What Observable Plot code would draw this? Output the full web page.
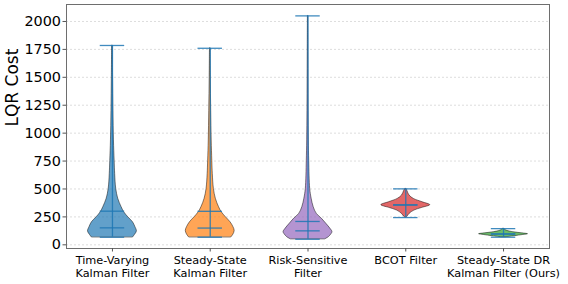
<!DOCTYPE html>
<html>
<head>
<meta charset="utf-8">
<script src="https://cdn.jsdelivr.net/npm/d3@7"></script>
<script src="https://cdn.jsdelivr.net/npm/@observablehq/plot@0.6"></script>
<style>
  html, body { margin: 0; padding: 0; background: #fff; }
  #chart svg { display: block; font-family: "DejaVu Sans", sans-serif; }
</style>
</head>
<body>
<div id="chart"></div>
<script>
// ---- data ----
const categories = [
  "Time-Varying\nKalman Filter",
  "Steady-State\nKalman Filter",
  "Risk-Sensitive\nFilter",
  "BCOT Filter",
  "Steady-State DR\nKalman Filter (Ours)"
];
const bodyColors = ["#1f77b4", "#ff7f0e", "#9467bd", "#d62728", "#2ca02c"];
const yTicks = [0, 250, 500, 750, 1000, 1250, 1500, 1750, 2000];

// summary statistics (LQR cost)
const minCost    = [68, 68, 50, 244, 68];
const maxCost    = [1785, 1760, 2050, 501, 145];
const meanCost   = [301, 300, 209, 358, 97];
const medianCost = [152, 150, 125, 356, 97];

// estimated density profiles (relative to each violin's peak)
const tvkfCost    = [68, 92, 120, 158, 202, 247, 292, 337, 412, 500, 635, 750, 935, 1200, 1500, 1785];
const tvkfDensity = [0.85, 0.93, 1.0, 0.94, 0.84, 0.645, 0.48, 0.375, 0.237, 0.155, 0.11, 0.09, 0.061, 0.04, 0.025, 0.012];

const sskfCost    = [68, 92, 125, 158, 202, 247, 292, 337, 412, 500, 635, 750, 935, 1200, 1500, 1760];
const sskfDensity = [0.87, 0.95, 1.0, 0.95, 0.83, 0.64, 0.47, 0.36, 0.23, 0.15, 0.105, 0.085, 0.06, 0.04, 0.022, 0.012];

const rsfCost    = [50, 68, 98, 115, 143, 188, 233, 277, 337, 412, 500, 750, 935, 1200, 1500, 1800, 2050];
const rsfDensity = [0.71, 0.85, 0.97, 1.0, 0.92, 0.75, 0.57, 0.36, 0.233, 0.15, 0.09, 0.05, 0.033, 0.022, 0.015, 0.01, 0.005];

const bcotCost    = [244, 253, 277, 307, 331, 355, 381, 411, 441, 480, 501];
const bcotDensity = [0.02, 0.07, 0.155, 0.355, 0.68, 1.0, 0.69, 0.33, 0.155, 0.07, 0.02];

const drkfCost    = [68, 77, 88, 95, 103, 113, 125, 135, 145];
const drkfDensity = [0.1, 0.45, 0.8, 1.0, 0.75, 0.4, 0.15, 0.06, 0.02];

const profiles = [
  [tvkfCost, tvkfDensity],
  [sskfCost, sskfDensity],
  [rsfCost, rsfDensity],
  [bcotCost, bcotDensity],
  [drkfCost, drkfDensity]
];

// ---- build tables ----
const halfWidth = 0.25;   // violin widths = 0.5
const capHalf = 0.125;
const stats = categories.map((c, i) => ({
  pos: i + 1, min: minCost[i], max: maxCost[i], mean: meanCost[i], median: medianCost[i]
}));

const violinMarks = profiles.map(([cost, dens], i) => {
  const rows = cost.map((v, j) => ({pos: i + 1, cost: v, density: dens[j]}));
  return Plot.areaX(rows, {
    y: "cost",
    x1: d => d.pos - halfWidth * d.density,
    x2: d => d.pos + halfWidth * d.density,
    curve: "catmull-rom",
    fill: bodyColors[i],
    fillOpacity: 0.7,
    stroke: "#000",
    strokeOpacity: 0.6,
    strokeWidth: 0.8
  });
});

const lineStyle = {stroke: "#1f77b4", strokeWidth: 1.3, strokeOpacity: 0.85};

const chart = Plot.plot({
  width: 568,
  height: 284,
  marginLeft: 66,
  marginRight: 19,
  marginTop: 4,
  marginBottom: 36,
  style: {fontFamily: "DejaVu Sans, sans-serif", color: "#000", background: "#fff"},
  x: {type: "linear", domain: [0.53, 5.47], axis: null},
  y: {domain: [-33, 2152], axis: null},
  marks: [
    Plot.gridY(yTicks, {stroke: "#d4d4d4", strokeOpacity: 1, strokeWidth: 0.8, strokeDasharray: "2,2"}),
    ...violinMarks,
    Plot.ruleX(stats, {x: "pos", y1: "min", y2: "max", ...lineStyle}),
    Plot.ruleY(stats, {y: "max", x1: d => d.pos - capHalf, x2: d => d.pos + capHalf, ...lineStyle}),
    Plot.ruleY(stats, {y: "min", x1: d => d.pos - capHalf, x2: d => d.pos + capHalf, ...lineStyle}),
    Plot.ruleY(stats, {y: "mean", x1: d => d.pos - capHalf, x2: d => d.pos + capHalf, ...lineStyle}),
    Plot.ruleY(stats, {y: "median", x1: d => d.pos - capHalf, x2: d => d.pos + capHalf, ...lineStyle}),
    Plot.frame({stroke: "#6e6e6e", strokeWidth: 1}),
    Plot.axisY({
      ticks: yTicks, tickSize: 3.5, tickPadding: 2, fontSize: 14.4,
      stroke: "#555", label: null, tickFormat: d => String(d)
    }),
    Plot.axisX({
      ticks: [1, 2, 3, 4, 5], tickSize: 3.5, tickPadding: 2.5, fontSize: 11.3,
      lineHeight: 1.15, stroke: "#555", label: null,
      tickFormat: d => categories[d - 1]
    }),
    Plot.text(["LQR Cost"], {
      frameAnchor: "left", rotate: -90, dx: -54, fontSize: 17, fill: "#000"
    })
  ]
});
document.getElementById("chart").appendChild(chart);
</script>
</body>
</html>
